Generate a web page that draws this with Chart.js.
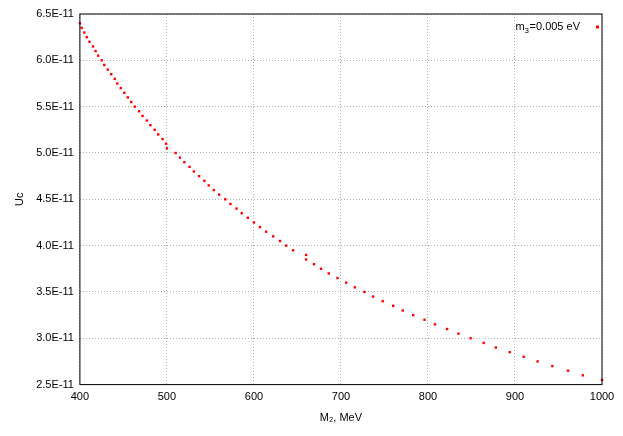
<!DOCTYPE html>
<html><head><script src="https://cdn.jsdelivr.net/npm/chart.js"></script>
<style>body{margin:0;background:#fff}#w{width:623px;height:436px}</style></head>
<body><div id="w"><canvas id="c"></canvas></div>
<script>
const seriesLabel = "m\u2083=0.005 eV";
const uc = [6.40,6.35,6.30,6.25,6.20,6.15,6.10,6.05,6.00,5.95,5.90,5.85,5.80,5.75,5.70,5.65,5.60,5.55,5.50,5.45,5.40,5.35,5.30,5.25,5.20,5.15,5.10,5.05,5.00,4.95,4.90,4.85,4.80,4.75,4.70,4.65,4.60,4.55,4.50,4.45,4.40,4.35,4.30,4.25,4.20,4.15,4.10,4.05,4.00,3.95,3.90,3.85,3.80,3.75,3.70,3.65,3.60,3.55,3.50,3.45,3.40,3.35,3.30,3.25,3.20,3.15,3.10,3.05,3.00,2.95,2.90,2.85,2.80,2.75,2.70,2.65,2.60,2.55];
const m2 = [400,402,405,408,411,415,418,421,425,428,432,436,440,443,447,451,455,459,463,468,472,477,481,486,490,495,499,500,510,515,520,526,531,537,543,548,554,560,567,573,580,586,593,600,607,614,622,630,637,645,660,660,669,677,686,696,706,716,727,737,748,760,771,783,796,808,822,835,849,864,878,894,910,926,943,961,978,1000];
const yTicks = [2.5,3.0,3.5,4.0,4.5,5.0,5.5,6.0,6.5];
const xTicks = [400,500,600,700,800,900,1000];
const font = {family:"'Liberation Sans', Arial, sans-serif", size:11};
const legendPlugin = {id:'lg', afterDraw(ch){const c=ch.ctx;c.save();c.font="11px 'Liberation Sans', Arial, sans-serif";c.fillStyle='#000';c.textAlign='right';c.textBaseline='middle';
 c.fillText('=0.005 eV',580,27);const w=c.measureText('=0.005 eV').width;c.fillText('m',580-w-5,27);c.font="8px 'Liberation Sans', Arial, sans-serif";c.textAlign='left';c.fillText('3',580-w-5,31);
 c.fillStyle='#f00';c.fillRect(596,25.5,3,3);c.restore();}};
new Chart(document.getElementById('c'),{type:'scatter',
data:{datasets:[{label:seriesLabel,data:m2.map((x,i)=>({x:x,y:uc[i]})),pointRadius:1.7,pointStyle:'rect',backgroundColor:'#f00',borderWidth:0,clip:false}]},
options:{responsive:true,maintainAspectRatio:false,animation:false,
layout:{padding:{top:14,right:21,left:9,bottom:7}},
plugins:{legend:{display:false},tooltip:{enabled:false}},
scales:{x:{type:'linear',min:400,max:1000,afterBuildTicks:s=>{s.ticks=xTicks.map(v=>({value:v}))},
 grid:{color:'#b0b0b0',drawTicks:false},border:{display:false,dash:[1,2]},
 ticks:{color:'#000',font:font,padding:6,callback:v=>String(v)},title:{display:true,text:'M\u2082, MeV',color:'#000',font:font,padding:{top:2}}},
 y:{min:2.5,max:6.5,afterBuildTicks:s=>{s.ticks=yTicks.map(v=>({value:v}))},
 grid:{color:'#b0b0b0',drawTicks:false},border:{display:false,dash:[1,2]},
 ticks:{color:'#000',font:font,padding:6,callback:v=>v.toFixed(1)+'E-11'},title:{display:true,text:'Uc',color:'#000',font:font}}}},
plugins:[legendPlugin,{id:'bx',afterDatasetsDraw(ch){const c=ch.ctx,a=ch.chartArea;c.save();c.strokeStyle='#000';c.lineWidth=1;c.strokeRect(a.left,a.top,a.right-a.left,a.bottom-a.top);c.restore();}}]
});
</script></body></html>
